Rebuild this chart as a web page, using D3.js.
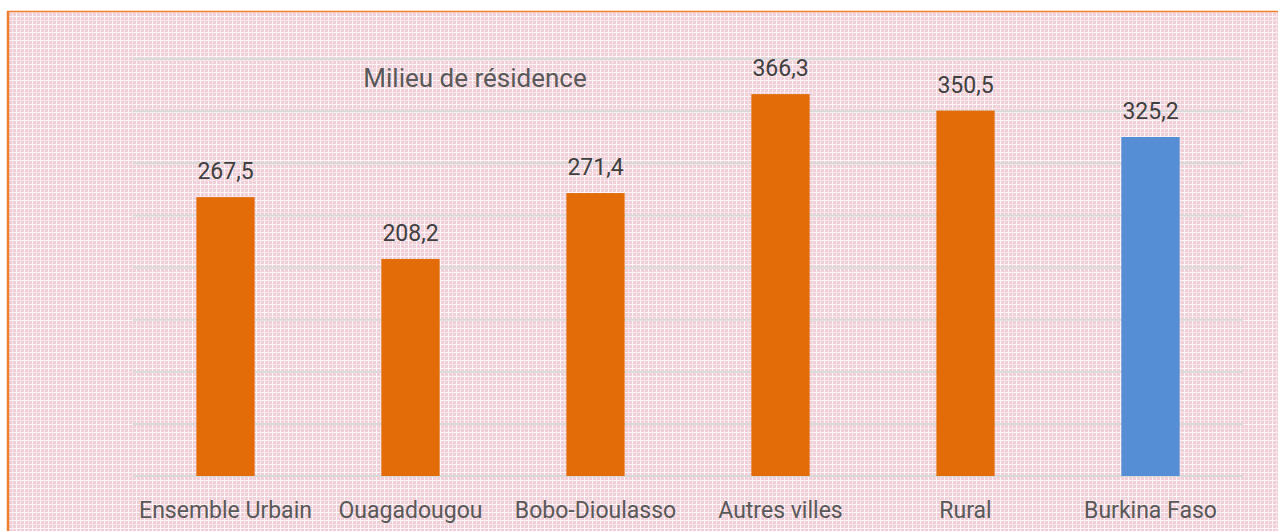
<!DOCTYPE html>
<html>
<head>
<meta charset="utf-8">
<script src="https://cdn.jsdelivr.net/npm/d3@7"></script>
<style>
  html, body { margin: 0; padding: 0; background: #fff; }
  svg { display: block; font-family: Roboto, "Noto Sans", sans-serif; }
</style>
</head>
<body>
<svg id="chart" width="1278" height="531"></svg>
<script>
// --- data ---
const categories = ["Ensemble Urbain", "Ouagadougou", "Bobo-Dioulasso", "Autres villes", "Rural", "Burkina Faso"];
const values = [267.5, 208.2, 271.4, 366.3, 350.5, 325.2];
const barColors = ["#e36c09", "#e36c09", "#e36c09", "#e36c09", "#e36c09", "#558ed5"];
const gridTicks = [0, 50, 100, 150, 200, 250, 300, 350, 400];
const title = "Milieu de résidence";

const svg = d3.select("#chart");
const margin = { top: 59, left: 133, right: 35, bottom: 55 };
const W = 1278, H = 531;

// plaid background pattern
const defs = svg.append("defs");
const pat = defs.append("pattern")
    .attr("id", "plaid")
    .attr("width", 8).attr("height", 8)
    .attr("patternUnits", "userSpaceOnUse");
pat.append("rect").attr("width", 8).attr("height", 8).attr("fill", "#efd0d8");
pat.append("rect").attr("x", 0).attr("width", 1).attr("height", 8).attr("fill", "#fef7f9");
pat.append("rect").attr("y", 0).attr("width", 8).attr("height", 1).attr("fill", "#fef7f9");
pat.append("rect").attr("x", 4).attr("width", 1).attr("height", 8).attr("fill", "#f8e5ea");
pat.append("rect").attr("y", 4).attr("width", 8).attr("height", 1).attr("fill", "#f8e5ea");

svg.append("rect")
    .attr("x", 7).attr("y", 11)
    .attr("width", W - 7).attr("height", H - 11)
    .attr("fill", "url(#plaid)");
// orange frame (top + left)
svg.append("line").attr("x1", 7).attr("x2", W).attr("y1", 11.5).attr("y2", 11.5)
    .attr("stroke", "#f07f2e").attr("stroke-width", 1.5);
svg.append("line").attr("x1", 8).attr("x2", 8).attr("y1", 11).attr("y2", H)
    .attr("stroke", "#f07f2e").attr("stroke-width", 2.5);

const x = d3.scaleBand()
    .domain(categories)
    .range([margin.left, W - margin.right])
    .paddingInner(0.685).paddingOuter(0.3425);

const y = d3.scaleLinear()
    .domain([0, 400])
    .range([H - margin.bottom, margin.top]);

// gridlines
svg.append("g")
    .selectAll("line")
    .data(gridTicks)
    .join("line")
    .attr("x1", margin.left).attr("x2", W - margin.right)
    .attr("y1", d => y(d)).attr("y2", d => y(d))
    .attr("stroke", "#d9d9d9").attr("stroke-width", 2);

// bars
svg.append("g")
    .selectAll("rect")
    .data(values)
    .join("rect")
    .attr("x", (d, i) => x(categories[i]))
    .attr("width", x.bandwidth())
    .attr("y", d => y(d))
    .attr("height", d => y(0) - y(d))
    .attr("fill", (d, i) => barColors[i]);

// value labels
svg.append("g")
    .selectAll("text")
    .data(values)
    .join("text")
    .attr("x", (d, i) => x(categories[i]) + x.bandwidth() / 2)
    .attr("y", d => y(d) - 18)
    .attr("text-anchor", "middle")
    .attr("font-size", 23)
    .attr("fill", "#404040")
    .text(d => d3.format(".1f")(d).replace(".", ","));

// category axis
const xAxis = svg.append("g")
    .attr("transform", `translate(0, ${y(0)})`)
    .call(d3.axisBottom(x).tickSize(0).tickPadding(0));
xAxis.select(".domain").remove();
xAxis.selectAll("text")
    .attr("y", 42)
    .attr("dy", 0)
    .attr("font-size", 23)
    .attr("font-family", "Roboto, sans-serif")
    .attr("fill", "#595959");

// title
svg.append("text")
    .attr("x", 475).attr("y", 87)
    .attr("text-anchor", "middle")
    .attr("font-size", 26)
    .attr("fill", "#595959")
    .text(title);
</script>
</body>
</html>
